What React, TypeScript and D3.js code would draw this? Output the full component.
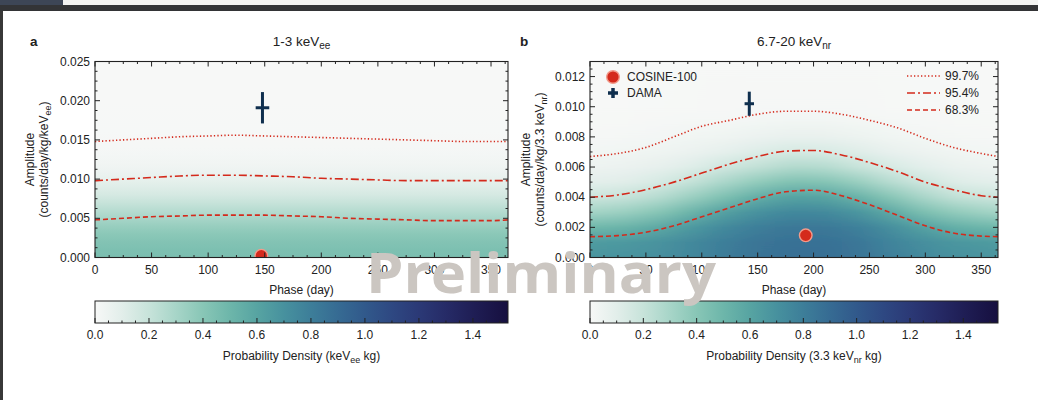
import React from 'react';
import * as d3 from 'd3';

const W = 1038;
const H = 400;
const FONT = 'Liberation Sans, Arial, Helvetica, sans-serif';
const RED = '#d42a1c';
const NAVY = '#0f2f4e';

// confidence contours, read at these phases (day)
const CL_PHASES = [0, 25, 50, 75, 100, 125, 150, 175, 200, 225, 250, 275, 300, 325, 350, 365];
const A_CL997 = [0.0148, 0.015, 0.0152, 0.0154, 0.0155, 0.0156, 0.0155, 0.0154, 0.0153, 0.0152, 0.0151, 0.015, 0.0149, 0.0148, 0.0148, 0.0148];
const A_CL954 = [0.0098, 0.01, 0.0102, 0.0104, 0.0105, 0.0105, 0.0104, 0.0103, 0.0101, 0.01, 0.0099, 0.0098, 0.0098, 0.0098, 0.0098, 0.0098];
const A_CL683 = [0.0048, 0.005, 0.0052, 0.0053, 0.0054, 0.0054, 0.0054, 0.0053, 0.0052, 0.005, 0.0049, 0.0048, 0.0047, 0.0047, 0.0047, 0.0048];
const B_CL997 = [0.0067, 0.0069, 0.0073, 0.008, 0.0087, 0.0091, 0.0095, 0.0097, 0.0097, 0.0095, 0.0091, 0.0086, 0.0079, 0.0073, 0.0069, 0.0067];
const B_CL954 = [0.004, 0.00415, 0.0045, 0.005, 0.0056, 0.0062, 0.0067, 0.00705, 0.0071, 0.0068, 0.0063, 0.0057, 0.005, 0.0045, 0.0041, 0.004];
const B_CL683 = [0.00138, 0.00145, 0.00168, 0.0021, 0.0027, 0.0033, 0.0039, 0.00436, 0.00446, 0.0041, 0.0035, 0.0028, 0.0021, 0.00162, 0.00142, 0.00138];

const CL_LABELS = ['99.7%', '95.4%', '68.3%'];

// probability density, panel a (depends on amplitude only)
const A_HEAT_AMPS = [0, 0.001, 0.002, 0.003, 0.004, 0.005, 0.006, 0.007, 0.008, 0.009, 0.01, 0.011, 0.012, 0.013, 0.014, 0.015, 0.016, 0.02, 0.025];
const A_HEAT = [0.45, 0.44, 0.42, 0.39, 0.35, 0.3, 0.25, 0.2, 0.15, 0.11, 0.075, 0.05, 0.03, 0.018, 0.01, 0.006, 0.003, 0, 0];

// probability density, panel b: one row per phase, columns at B_HEAT_AMPS
const B_HEAT_PHASES = [0, 30, 60, 90, 120, 150, 180, 210, 240, 270, 300, 330, 365];
const B_HEAT_AMPS = [0, 0.001, 0.002, 0.003, 0.004, 0.005, 0.006, 0.007, 0.008, 0.009, 0.01, 0.013];
const B_HEAT = [
  [0.68, 0.65, 0.49, 0.31, 0.18, 0.095, 0.048, 0.024, 0.01, 0.005, 0.002, 0],
  [0.69, 0.66, 0.51, 0.34, 0.2, 0.105, 0.057, 0.028, 0.012, 0.005, 0.002, 0],
  [0.71, 0.69, 0.57, 0.4, 0.25, 0.14, 0.076, 0.038, 0.017, 0.008, 0.003, 0],
  [0.75, 0.74, 0.66, 0.51, 0.34, 0.21, 0.11, 0.057, 0.028, 0.012, 0.004, 0],
  [0.81, 0.8, 0.74, 0.62, 0.44, 0.29, 0.17, 0.085, 0.038, 0.015, 0.006, 0],
  [0.86, 0.85, 0.8, 0.7, 0.55, 0.37, 0.22, 0.12, 0.057, 0.024, 0.009, 0],
  [0.88, 0.87, 0.83, 0.75, 0.61, 0.43, 0.27, 0.15, 0.07, 0.028, 0.011, 0],
  [0.88, 0.87, 0.83, 0.74, 0.6, 0.42, 0.26, 0.14, 0.066, 0.028, 0.01, 0],
  [0.85, 0.84, 0.79, 0.68, 0.52, 0.35, 0.2, 0.11, 0.052, 0.021, 0.008, 0],
  [0.79, 0.77, 0.71, 0.57, 0.4, 0.25, 0.14, 0.07, 0.033, 0.013, 0.005, 0],
  [0.73, 0.71, 0.61, 0.44, 0.29, 0.17, 0.095, 0.047, 0.021, 0.009, 0.003, 0],
  [0.7, 0.67, 0.53, 0.36, 0.21, 0.11, 0.062, 0.03, 0.012, 0.005, 0.002, 0],
  [0.68, 0.65, 0.49, 0.31, 0.18, 0.095, 0.048, 0.024, 0.01, 0.005, 0.002, 0],
];

// measured points: [phase, phase err, amplitude, amplitude err]
const A_COSINE = [147, 0, 0.00023, 0];
const A_DAMA = [148, 6, 0.0191, 0.002];
const B_COSINE = [193, 0, 0.00147, 0];
const B_DAMA = [142.5, 4.2, 0.0102, 0.0008];

const X_TICKS = [0, 50, 100, 150, 200, 250, 300, 350];
const A_Y_TICKS = [0, 0.005, 0.01, 0.015, 0.02, 0.025];
const B_Y_TICKS = [0, 0.002, 0.004, 0.006, 0.008, 0.01, 0.012];
const CB_TICKS = [0, 0.2, 0.4, 0.6, 0.8, 1.0, 1.2, 1.4];
const CB_MAX = 1.53;

// colormap stops
const CMAP_VALUES = [0, 0.1, 0.2, 0.3, 0.4, 0.5, 0.6, 0.7, 0.8, 0.9, 1.0, 1.1, 1.2, 1.3, 1.4, 1.53];
const CMAP_COLORS = ['#f7f8f7', '#e2eeea', '#c7e3da', '#a7d5c8', '#88c6b6', '#6db6aa', '#57a4a2', '#47919e', '#3d7e99', '#366b93', '#31598b', '#2e4882', '#2b3976', '#262b67', '#1f1e55', '#160f3f'];

const cmap = d3.scaleLinear<string>().domain(CMAP_VALUES).range(CMAP_COLORS).interpolate(d3.interpolateRgb).clamp(true);

const TOP = 61.5;
const BOTTOM = 257.5;
const DASHES = ['1.3 2.2', '8 3 2 3', '5 3'];
const FS = 12;

type Col = { p0: number; p1: number; dens: number[] };

type PanelCfg = {
  id: string;
  x0: number;
  x1: number;
  yMax: number;
  yTicks: number[];
  yMinor: number;
  letter: string;
  title: string;
  titleSub: string;
  ylab: string;
  ylabSub: string;
  ylabX: [number, number];
  contours: number[][];
  cols: Col[];
  amps: number[];
  blur: number;
  cosine: number[];
  dama: number[];
  legend: boolean;
};

function Panel({ c }: { c: PanelCfg }) {
  const x = d3.scaleLinear().domain([0, 365]).range([c.x0, c.x1]);
  const y = d3.scaleLinear().domain([0, c.yMax]).range([BOTTOM, TOP]);
  const ampMax = c.amps[c.amps.length - 1];
  const xMinor = d3.range(0, 365.01, 12.5).filter((v) => !X_TICKS.includes(v));
  const yMinor = d3.range(0, c.yMax + 1e-9, c.yMinor).filter((v) => !c.yTicks.some((t) => Math.abs(t - v) < 1e-9));
  const line = d3
    .line<number>()
    .x((_, i) => x(CL_PHASES[i]))
    .y((d) => y(d))
    .curve(d3.curveMonotoneX);
  const yc = (TOP + BOTTOM) / 2;
  const [dp, ddp, da, dda] = c.dama;

  return (
    <g>
      <defs>
        <clipPath id={`clip-${c.id}`}>
          <rect x={c.x0} y={TOP} width={c.x1 - c.x0} height={BOTTOM - TOP} />
        </clipPath>
        {c.cols.map((col, i) => (
          <linearGradient key={i} id={`g-${c.id}-${i}`} gradientUnits="userSpaceOnUse" x1={0} x2={0} y1={y(0)} y2={y(ampMax)}>
            {c.amps.map((a, j) => (
              <stop key={j} offset={a / ampMax} stopColor={cmap(col.dens[j])} />
            ))}
          </linearGradient>
        ))}
        <filter id={`blur-${c.id}`} filterUnits="userSpaceOnUse" x={c.x0 - 100} y={TOP - 30} width={c.x1 - c.x0 + 200} height={BOTTOM - TOP + 60}>
          <feGaussianBlur stdDeviation={`${c.blur} 0`} />
        </filter>
      </defs>

      <g clipPath={`url(#clip-${c.id})`}>
        <g filter={c.blur ? `url(#blur-${c.id})` : undefined}>
          {c.cols.map((col, i) => (
            <rect key={i} x={x(col.p0)} y={TOP - 10} width={x(col.p1) - x(col.p0) + 0.6} height={BOTTOM - TOP + 20} fill={`url(#g-${c.id}-${i})`} />
          ))}
        </g>
        {c.contours.map((vals, k) => (
          <path key={k} d={line(vals) ?? ''} fill="none" stroke={RED} strokeWidth={1.6} strokeDasharray={DASHES[k]} />
        ))}
        <circle cx={x(c.cosine[0])} cy={y(c.cosine[2])} r={6.3} fill={RED} stroke="#f29a8a" strokeWidth={1.4} />
      </g>

      <g stroke={NAVY} strokeWidth={3}>
        <line x1={x(dp - ddp)} x2={x(dp + ddp)} y1={y(da)} y2={y(da)} />
        <line x1={x(dp)} x2={x(dp)} y1={y(da - dda)} y2={y(da + dda)} />
      </g>

      {/* frame + ticks */}
      <rect x={c.x0} y={TOP} width={c.x1 - c.x0} height={BOTTOM - TOP} fill="none" stroke="#222" strokeWidth={1.1} />
      <g stroke="#222" strokeWidth={1}>
        {X_TICKS.map((t) => (
          <g key={`xt${t}`}>
            <line x1={x(t)} x2={x(t)} y1={BOTTOM} y2={BOTTOM - 5} />
            <line x1={x(t)} x2={x(t)} y1={TOP} y2={TOP + 5} />
          </g>
        ))}
        {xMinor.map((t) => (
          <g key={`xm${t}`}>
            <line x1={x(t)} x2={x(t)} y1={BOTTOM} y2={BOTTOM - 2.5} />
            <line x1={x(t)} x2={x(t)} y1={TOP} y2={TOP + 2.5} />
          </g>
        ))}
        {c.yTicks.map((t) => (
          <g key={`yt${t}`}>
            <line x1={c.x0} x2={c.x0 + 5} y1={y(t)} y2={y(t)} />
            <line x1={c.x1} x2={c.x1 - 5} y1={y(t)} y2={y(t)} />
          </g>
        ))}
        {yMinor.map((t, i) => (
          <g key={`ym${i}`}>
            <line x1={c.x0} x2={c.x0 + 2.5} y1={y(t)} y2={y(t)} />
            <line x1={c.x1} x2={c.x1 - 2.5} y1={y(t)} y2={y(t)} />
          </g>
        ))}
      </g>

      <g fontFamily={FONT} fontSize={FS} fill="#222">
        {X_TICKS.map((t) => (
          <text key={`xl${t}`} x={x(t)} y={274} textAnchor="middle">
            {t}
          </text>
        ))}
        {c.yTicks.map((t) => (
          <text key={`yl${t}`} x={c.x0 - 5} y={y(t) + 4} textAnchor="end">
            {t.toFixed(3)}
          </text>
        ))}
        <text x={(c.x0 + c.x1) / 2} y={294} textAnchor="middle">
          Phase (day)
        </text>
        <text transform={`translate(${c.ylabX[0]},${yc}) rotate(-90)`} textAnchor="middle">
          Amplitude
        </text>
        <text transform={`translate(${c.ylabX[1]},${yc}) rotate(-90)`} textAnchor="middle">
          {c.ylab}
          <tspan fontSize={9} dy={2.5}>
            {c.ylabSub}
          </tspan>
          <tspan dy={-2.5}>)</tspan>
        </text>
        <text x={(c.x0 + c.x1) / 2} y={46} textAnchor="middle" fontSize={13.5}>
          {c.title}
          <tspan fontSize={10} dy={3}>
            {c.titleSub}
          </tspan>
        </text>
        <text x={c.x0 - 65 + (c.id === 'b' ? -5 : 0)} y={46} fontWeight="bold" fontSize={13.5}>
          {c.letter}
        </text>
      </g>

      {c.legend && (
        <g fontFamily={FONT} fontSize={FS} fill="#222">
          <circle cx={c.x0 + 23} cy={77} r={6.3} fill={RED} stroke="#f29a8a" strokeWidth={1.4} />
          <text x={c.x0 + 37} y={81}>COSINE-100</text>
          <g stroke={NAVY} strokeWidth={3.5}>
            <line x1={c.x0 + 18} x2={c.x0 + 28} y1={93} y2={93} />
            <line x1={c.x0 + 23} x2={c.x0 + 23} y1={88} y2={98} />
          </g>
          <text x={c.x0 + 37} y={97}>DAMA</text>
          {CL_LABELS.map((lab, k) => (
            <g key={lab}>
              <line x1={c.x1 - 91} x2={c.x1 - 58} y1={76 + k * 17} y2={76 + k * 17} stroke={RED} strokeWidth={1.6} strokeDasharray={DASHES[k]} />
              <text x={c.x1 - 53} y={80 + k * 17}>
                {lab}
              </text>
            </g>
          ))}
        </g>
      )}
    </g>
  );
}

function Colorbar({ id, x0, x1, unitPre, unitSub }: { id: string; x0: number; x1: number; unitPre: string; unitSub: string }) {
  const s = d3.scaleLinear().domain([0, CB_MAX]).range([x0, x1]);
  const y0 = 301;
  const y1 = 323;
  const minor = d3.range(0, CB_MAX, 0.05).filter((v) => !CB_TICKS.some((t) => Math.abs(t - v) < 1e-6));
  return (
    <g>
      <defs>
        <linearGradient id={`cb-${id}`} x1="0" x2="1" y1="0" y2="0">
          {CMAP_VALUES.map((v, i) => (
            <stop key={i} offset={v / CB_MAX} stopColor={CMAP_COLORS[i]} />
          ))}
        </linearGradient>
      </defs>
      <rect x={x0} y={y0} width={x1 - x0} height={y1 - y0} fill={`url(#cb-${id})`} stroke="#222" strokeWidth={1} />
      <g stroke="#222" strokeWidth={1}>
        {CB_TICKS.map((t) => (
          <line key={t} x1={s(t)} x2={s(t)} y1={y1} y2={y1 - 5} />
        ))}
        {minor.map((t, i) => (
          <line key={i} x1={s(t)} x2={s(t)} y1={y1} y2={y1 - 2.5} />
        ))}
      </g>
      <g fontFamily={FONT} fontSize={FS} fill="#222">
        {CB_TICKS.map((t) => (
          <text key={t} x={s(t)} y={339} textAnchor="middle">
            {t.toFixed(1)}
          </text>
        ))}
        <text x={(x0 + x1) / 2} y={360} textAnchor="middle">
          {`Probability Density (${unitPre}keV`}
          <tspan fontSize={9} dy={2.5}>
            {unitSub}
          </tspan>
          <tspan dy={-2.5}> kg)</tspan>
        </text>
      </g>
    </g>
  );
}

export default function App() {
  const colsB: Col[] = B_HEAT_PHASES.map((p, i) => ({
    p0: i === 0 ? -40 : (B_HEAT_PHASES[i - 1] + p) / 2,
    p1: i === B_HEAT_PHASES.length - 1 ? 405 : (p + B_HEAT_PHASES[i + 1]) / 2,
    dens: B_HEAT[i],
  }));

  const panelA: PanelCfg = {
    id: 'a',
    x0: 95,
    x1: 508,
    yMax: 0.025,
    yTicks: A_Y_TICKS,
    yMinor: 0.00125,
    letter: 'a',
    title: '1-3 keV',
    titleSub: 'ee',
    ylab: '(counts/day/kg/keV',
    ylabSub: 'ee',
    ylabX: [34, 48],
    contours: [A_CL997, A_CL954, A_CL683],
    cols: [{ p0: -20, p1: 385, dens: A_HEAT }],
    amps: A_HEAT_AMPS,
    blur: 0,
    cosine: A_COSINE,
    dama: A_DAMA,
    legend: false,
  };

  const panelB: PanelCfg = {
    id: 'b',
    x0: 590,
    x1: 998,
    yMax: 0.013,
    yTicks: B_Y_TICKS,
    yMinor: 0.0005,
    letter: 'b',
    title: '6.7-20 keV',
    titleSub: 'nr',
    ylab: '(counts/day/kg/3.3 keV',
    ylabSub: 'nr',
    ylabX: [530, 544],
    contours: [B_CL997, B_CL954, B_CL683],
    cols: colsB,
    amps: B_HEAT_AMPS,
    blur: 14,
    cosine: B_COSINE,
    dama: B_DAMA,
    legend: true,
  };

  return (
    <svg width={W} height={H} viewBox={`0 0 ${W} ${H}`} style={{ position: 'absolute', left: 0, top: 0, display: 'block' }}>
      <rect x={0} y={0} width={W} height={H} fill="#ffffff" />
      <rect x={0} y={0} width={W} height={5} fill="#f3f3f1" />
      <rect x={0} y={0} width={63} height={5} fill="#3d4656" />
      <rect x={0} y={5} width={W} height={6} fill="#333436" />
      <rect x={0} y={11} width={3} height={H - 11} fill="#383838" />

      <Panel c={panelA} />
      <Panel c={panelB} />
      <Colorbar id="a" x0={95} x1={508} unitPre="" unitSub="ee" />
      <Colorbar id="b" x0={590} x1={998} unitPre="3.3 " unitSub="nr" />

      <text x={541} y={293} textAnchor="middle" fontFamily="Open Sans, Liberation Sans, sans-serif" fontWeight="bold" fontSize={56} fill="#cbc6c1" textLength={350} lengthAdjust="spacingAndGlyphs">
        Preliminary
      </text>
    </svg>
  );
}
